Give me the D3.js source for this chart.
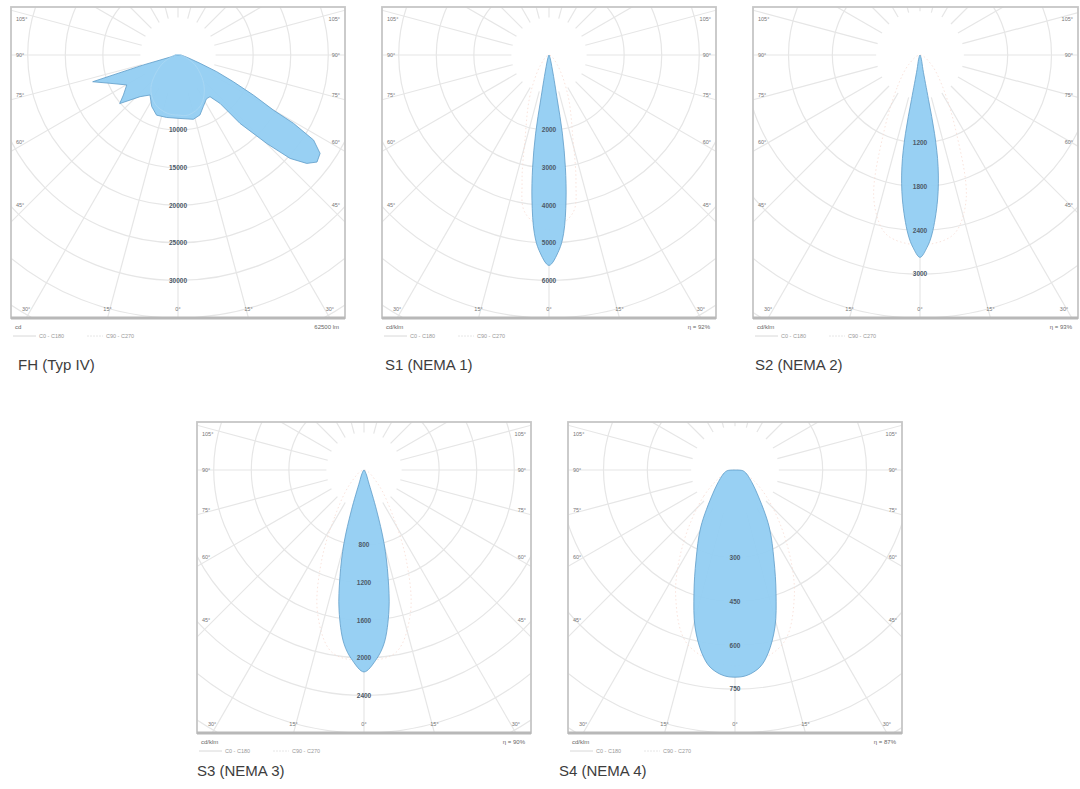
<!DOCTYPE html>
<html><head><meta charset="utf-8">
<script src="https://cdn.jsdelivr.net/npm/d3@7"></script>
<style>body{margin:0;background:#fff}svg{display:block}</style>
</head><body>
<svg id="chart" width="1080" height="789"></svg>
<script>
// ---------------- data ----------------
const titles = ["FH (Typ IV)", "S1 (NEMA 1)", "S2 (NEMA 2)", "S3 (NEMA 3)", "S4 (NEMA 4)"];
const unitLabels = ["cd", "cd/klm", "cd/klm", "cd/klm", "cd/klm"];
const infoLabels = ["62500 lm", "η = 92%", "η = 93%", "η = 90%", "η = 87%"];
const ringSteps = [5000, 1000, 600, 400, 150];      // value per ring
const ringCounts = [7, 7, 6, 7, 6];                 // rings from centre to lower frame edge
const sideAngles = [105, 90, 75, 60, 45];
const bottomAngles = [-30, -15, 0, 15, 30];
const legendLabels = ["C0 - C180", "C90 - C270"];

// FH (Typ IV) C0-C180, cd
const fhAngles = [-90,-80,-75,-74,-72.6,-67.4,-59.7,-53.8,-50.2,-42.3,-35,-27,-19.6,-10.3,1.8,13.4,20.1,26.1,33,37.5,41,42.2,45.1,47.3,49.9,52.4,55.3,57.9,59.4,60,62,64.2,66.7,69.3,75,90];
const fhC0 = [400,530,1070,4800,11900,9800,7900,9000,10100,7500,6500,7700,8500,8450,8450,8800,8500,7650,6950,7000,8550,12300,16700,20300,22400,23350,23000,21300,17850,14650,11350,8200,5600,3150,1350,400];
const fhC90Angles = [-90,-60,-40,-25,-10,0,10,25,40,60,90];
const fhC90 = [300,2500,5600,7200,7900,8000,8100,7300,5400,2600,300];

// S1 (NEMA 1), cd/klm
const s1Angles = [-20,-13,-10.5,-9.7,-8.3,-6.7,-4.7,-2.9,0,2.9,4.7,6.7,8.3,9.7,10.5,13,20,180];
const s1C0 = [80,410,1220,2110,3020,3890,4760,5210,5600,5210,4760,3890,3020,2110,1220,410,80,0];
const s1C90Angles = [-40,-25,-15.8,-12,-8.6,0,8.6,12,15.8,25,40,180];
const s1C90 = [350,1200,2350,3450,4250,4650,4250,3450,2350,1200,350,0];

// S2 (NEMA 2), cd/klm
const s2Angles = [-18,-11.5,-10.8,-10.5,-9.2,-6.9,-3.85,-2.1,0,2.1,3.85,6.9,9.2,10.5,10.8,11.5,18,180];
const s2C0 = [60,205,620,1095,1550,2000,2455,2635,2770,2635,2455,2000,1550,1095,620,205,60,0];
const s2C90Angles = [-50,-35,-25,-18,-12,-8,0,8,12,18,25,35,50,180];
const s2C90 = [200,550,1180,2050,2450,2550,2600,2550,2450,2050,1180,550,200,0];

// S3 (NEMA 3), cd/klm
const s3Angles = [-30,-20.6,-17.4,-15.3,-12.7,-10.1,-6.6,-3.5,0,3.5,6.6,10.1,12.7,15.3,17.4,20.6,30,180];
const s3C0 = [40,135,445,810,1165,1515,1860,2030,2150,2030,1860,1515,1165,810,445,135,40,0];
const s3C90Angles = [-45,-32,-25,-18,-10,0,10,18,25,32,45,180];
const s3C90 = [210,590,1070,1600,1970,2030,1970,1600,1070,590,210,0];

// S4 (NEMA 4), cd/klm
const s4Angles = [-85,-75,-60,-43.4,-31,-23.4,-18.4,-14.3,-10.2,-7.2,-3.35,0,3.35,7.2,10.2,14.3,18.4,23.4,31,43.4,60,75,85,180];
const s4C0 = [27,38,58,110,227,336,445,554,638,680,704,709,704,680,638,554,445,336,227,110,58,38,27,0];
const s4C90Angles = [-70,-50,-35,-25,-15,0,15,25,35,50,70,180];
const s4C90 = [40,140,310,480,620,670,620,480,310,140,40,0];

const panelsData = [
  {c0a: fhAngles, c0: fhC0, c90a: fhC90Angles, c90: fhC90, fillC90: true},
  {c0a: s1Angles, c0: s1C0, c90a: s1C90Angles, c90: s1C90},
  {c0a: s2Angles, c0: s2C0, c90a: s2C90Angles, c90: s2C90},
  {c0a: s3Angles, c0: s3C0, c90a: s3C90Angles, c90: s3C90},
  {c0a: s4Angles, c0: s4C0, c90a: s4C90Angles, c90: s4C90}
];

// ---------------- layout ----------------
const frames = [
  {x: 11, y: 7, w: 334, tx: 18, ty: 370},
  {x: 382, y: 7, w: 334, tx: 385, ty: 370},
  {x: 753, y: 7, w: 325, tx: 755, ty: 370},
  {x: 197, y: 422, w: 334, tx: 197, ty: 776},
  {x: 568, y: 422, w: 334, tx: 559, ty: 776}
];
const H = 311, CY = 48, CX = 167;
const FILL = "#92cdf2", STROKE = "#5e9cc8";
const GRID = "#e6e6e6";
const font = "'Liberation Sans', Arial, sans-serif";

const svg = d3.select("#chart");
const defs = svg.append("defs");
const rad = d => d * Math.PI / 180;

frames.forEach((f, i) => {
  const pd = panelsData[i];
  const W = f.w;
  const cx = f.x + CX, cy = f.y + CY;
  const ringPx = (H - CY) / ringCounts[i];
  const r = d3.scaleLinear().domain([0, ringSteps[i]]).range([0, ringPx]);
  const g = svg.append("g");

  const clipId = "clip" + i;
  defs.append("clipPath").attr("id", clipId)
    .append("rect").attr("x", f.x).attr("y", f.y).attr("width", W).attr("height", H);

  const clipped = g.append("g").attr("clip-path", `url(#${clipId})`);
  // rings
  const ringsK = d3.range(2, 12);
  clipped.selectAll("circle.ring").data(ringsK).join("circle")
    .attr("cx", cx).attr("cy", cy).attr("r", k => r(k * ringSteps[i]))
    .attr("fill", "none").attr("stroke", GRID).attr("stroke-width", 1.2);
  // radial lines every 15 degrees
  const spokes = d3.range(0, 360, 15);
  clipped.selectAll("line.spoke").data(spokes).join("line")
    .attr("x1", a => cx + r(ringSteps[i]) * Math.sin(rad(a)))
    .attr("y1", a => cy + r(ringSteps[i]) * Math.cos(rad(a)))
    .attr("x2", a => cx + 500 * Math.sin(rad(a)))
    .attr("y2", a => cy + 500 * Math.cos(rad(a)))
    .attr("stroke", GRID).attr("stroke-width", 1.2);

  // curves
  const toPts = (angles, vals) => angles.map((a, j) => ({a, v: vals[j]}));
  const radial = d3.lineRadial()
    .angle(d => Math.PI - rad(d.a))
    .radius(d => r(d.v));
  const plot = clipped.append("g").attr("transform", `translate(${cx},${cy})`);

  if (pd.fillC90) {
    plot.append("path").datum(toPts(pd.c0a, pd.c0))
      .attr("d", radial.curve(d3.curveLinearClosed))
      .attr("fill", FILL).attr("fill-opacity", 0.95)
      .attr("stroke", STROKE).attr("stroke-width", 0.8);
    plot.append("path").datum(toPts(pd.c90a, pd.c90))
      .attr("d", radial.curve(d3.curveCatmullRomClosed.alpha(0.5)))
      .attr("fill", "none").attr("stroke", "#acd8f4").attr("stroke-width", 0.8);
  } else {
    plot.append("path").datum(toPts(pd.c90a, pd.c90))
      .attr("d", radial.curve(d3.curveCatmullRomClosed.alpha(0.5)))
      .attr("fill", "none").attr("stroke", "#f7dcd3").attr("stroke-width", 0.8)
      .attr("stroke-dasharray", "1.5,2.5");
    plot.append("path").datum(toPts(pd.c0a, pd.c0))
      .attr("d", radial.curve(d3.curveCatmullRomClosed.alpha(0.5)))
      .attr("fill", FILL).attr("fill-opacity", 0.95)
      .attr("stroke", STROKE).attr("stroke-width", 0.8);
  }

  // ring labels
  const labelK = d3.range(2, ringCounts[i]);
  g.selectAll("text.rl").data(labelK).join("text")
    .attr("x", cx).attr("y", k => cy + r(k * ringSteps[i]))
    .attr("dy", "0.35em").attr("text-anchor", "middle")
    .attr("font-family", font).attr("font-size", 6.5).attr("font-weight", "bold")
    .attr("fill", "#4d5a68").text(k => k * ringSteps[i]);

  // side angle labels
  const sideY = a => Math.max(f.y + 12, Math.min(f.y + H - 14, cy + 150 * Math.cos(rad(a)) / Math.sin(rad(a))));
  [["start", f.x + 5], ["end", f.x + W - 5]].forEach(([anchor, lx]) => {
    g.selectAll("text.sa" + anchor).data(sideAngles).join("text")
      .attr("x", lx)
      .attr("y", a => sideY(a)).attr("dy", "0.35em")
      .attr("text-anchor", anchor)
      .attr("font-family", font).attr("font-size", 5.5).attr("fill", "#777")
      .text(a => a + "°");
  });
  // bottom angle labels
  g.selectAll("text.ba").data(bottomAngles).join("text")
    .attr("x", a => Math.max(f.x + 14, Math.min(f.x + W - 14, cx + (H - CY) * Math.tan(rad(a)))))
    .attr("y", f.y + H - 9).attr("dy", "0.35em").attr("text-anchor", "middle")
    .attr("font-family", font).attr("font-size", 5.5).attr("fill", "#777")
    .text(a => Math.abs(a) + "°");

  // frame
  g.append("rect").attr("x", f.x).attr("y", f.y).attr("width", W).attr("height", H)
    .attr("fill", "none").attr("stroke", "#c6c6c6").attr("stroke-width", 1.8);
  g.append("line").attr("x1", f.x).attr("x2", f.x + W).attr("y1", f.y + H).attr("y2", f.y + H)
    .attr("stroke", "#b8b8b8").attr("stroke-width", 3);

  // info under frame
  g.append("text").attr("x", f.x + 4).attr("y", f.y + H + 11)
    .attr("font-family", font).attr("font-size", 6).attr("fill", "#666").text(unitLabels[i]);
  g.append("text").attr("x", f.x + W - 6).attr("y", f.y + H + 11).attr("text-anchor", "end")
    .attr("font-family", font).attr("font-size", 6).attr("fill", "#666").text(infoLabels[i]);
  // legend
  const ly = f.y + H + 20;
  const legX = [[f.x + 2, f.x + 25, f.x + 28], [f.x + 76, f.x + 92, f.x + 95]];
  legendLabels.forEach((lab, j) => {
    g.append("line").attr("x1", legX[j][0]).attr("x2", legX[j][1]).attr("y1", ly - 2).attr("y2", ly - 2)
      .attr("stroke", j === 0 ? "#d8d8d8" : "#e6e6e6").attr("stroke-width", 1)
      .attr("stroke-dasharray", j === 0 ? null : "2,1");
    g.append("text").attr("x", legX[j][2]).attr("y", ly)
      .attr("font-family", font).attr("font-size", 5.5).attr("fill", "#999").text(lab);
  });

  // title
  svg.append("text").attr("x", f.tx).attr("y", f.ty)
    .attr("font-family", font).attr("font-size", 15).attr("fill", "#3d3d3d").text(titles[i]);
});
</script>
</body></html>
